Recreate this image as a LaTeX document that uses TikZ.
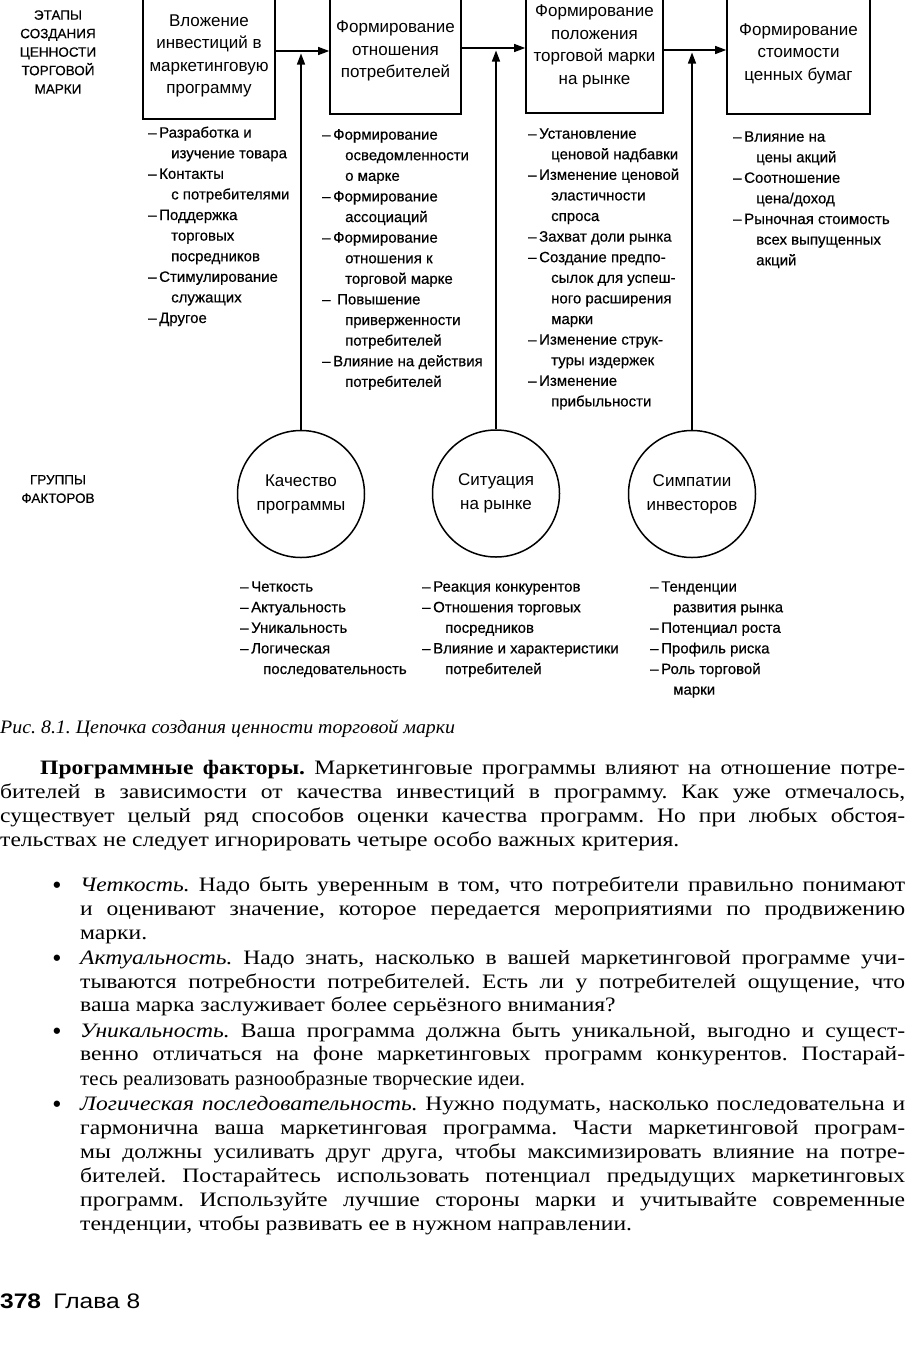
\documentclass[tikz,border=0pt]{standalone}
\usepackage{fontspec}
\setmainfont{Liberation Serif}[FakeStretch=1.15]
\setsansfont{Liberation Sans}
\newfontfamily\lstfont{Liberation Sans}[FakeBold=0.4]
\newfontfamily\capfont{Liberation Serif}
\usepackage{graphicx}
\usetikzlibrary{arrows.meta}
\frenchspacing
\newlength\fitw
\newcommand\fitto[2]{\settowidth\fitw{#2}\pgfmathsetmacro\fitr{#1/\fitw}\scalebox{\fitr}[1]{#2}}
\newcommand\jl[2]{\settowidth\fitw{#2}\ifdim\fitw>#1\relax\pgfmathsetmacro\fitr{#1/\fitw}\scalebox{\fitr}[1]{#2}\else\makebox[#1][s]{#2}\fi}
\newcommand\li[1]{\makebox[11pt][l]{–}#1}
\newcommand\lc[1]{\hspace*{23pt}#1}
\begin{document}
\begin{tikzpicture}[x=1pt,y=-1pt,
  box/.style={draw, line width=1.6pt, align=center, inner sep=0pt,
    font=\sffamily\fontsize{17}{22.5}\selectfont},
  circ/.style={draw, circle, line width=1.5pt, minimum size=127pt, inner sep=0pt,
    align=center, font=\sffamily\fontsize{17}{24}\selectfont},
  lst/.style={anchor=north west, align=left, inner sep=0pt,
    font=\lstfont\fontsize{15}{20.6}\selectfont},
  lbl/.style={align=center, inner sep=0pt, font=\lstfont\fontsize{13.5}{18.5}\selectfont},
  arr/.style={line width=1.3pt, -{Triangle[length=11pt,width=8pt]}},
  body/.style={anchor=base west, inner sep=0pt, font=\frenchspacing\fontsize{20.5}{24}\selectfont},
  bul/.style={anchor=base, inner sep=0pt, font=\sffamily\bfseries\fontsize{22}{24}\selectfont}]
\useasboundingbox (0,0) rectangle (914,1368);
\fill[white] (0,0) rectangle (914,1368);
\clip (0,0) rectangle (914,1368);

% left labels
\node[lbl] (stages) at (58,52) {ЭТАПЫ\\СОЗДАНИЯ\\ЦЕННОСТИ\\ТОРГОВОЙ\\МАРКИ};
\node[lbl] (groups) at (58,489) {ГРУППЫ\\ФАКТОРОВ};

% boxes
\node[box, minimum width=132pt, minimum height=126pt] (b1) at (209,56) {Вложение\\инвестиций в\\маркетинговую\\программу};
\node[box, minimum width=131pt, minimum height=126pt] (b2) at (395.5,51) {Формирование\\отношения\\потребителей};
\node[box, minimum width=137pt, minimum height=133pt] (b3) at (594.5,46.5) {Формирование\\положения\\торговой марки\\на рынке};
\node[box, minimum width=143pt, minimum height=121pt] (b4) at (798.5,53.5) {Формирование\\стоимости\\ценных бумаг};

\coordinate (a1) at (0,51);
\coordinate (a2) at (0,48);
\coordinate (a3) at (0,50);
\draw[arr] (b1.east |- a1) -- (b2.west |- a1);
\draw[arr] (b2.east |- a2) -- (b3.west |- a2);
\draw[arr] (b3.east |- a3) -- (b4.west |- a3);

% circles
\node[circ] (c1) at (301,494) {Качество\\программы};
\node[circ] (c2) at (496,493.5) {Ситуация\\на рынке};
\node[circ] (c3) at (692,494) {Симпатии\\инвесторов};
\draw[arr, shorten >=2.5pt] (c1.north) -- (c1.north |- a1);
\draw[arr, shorten >=2.5pt] (c2.north) -- (c2.north |- a2);
\draw[arr, shorten >=2.5pt] (c3.north) -- (c3.north |- a3);

% upper lists
\node[lst] (l1) at (148,123) {\strut\li{Разработка и}\\\lc{изучение товара}\\\li{Контакты}\\\lc{с потребителями}\\\li{Поддержка}\\\lc{торговых}\\\lc{посредников}\\\li{Стимулирование}\\\lc{служащих}\\\li{Другое}};
\node[lst] (l2) at (322,125) {\strut\li{Формирование}\\\lc{осведомленности}\\\lc{о марке}\\\li{Формирование}\\\lc{ассоциаций}\\\li{Формирование}\\\lc{отношения к}\\\lc{торговой марке}\\\li{\hspace{4pt}Повышение}\\\lc{приверженности}\\\lc{потребителей}\\\li{Влияние на действия}\\\lc{потребителей}};
\node[lst] (l3) at (528,124) {\strut\li{Установление}\\\lc{ценовой надбавки}\\\li{Изменение ценовой}\\\lc{эластичности}\\\lc{спроса}\\\li{Захват доли рынка}\\\li{Создание предпо-}\\\lc{сылок для успеш-}\\\lc{ного расширения}\\\lc{марки}\\\li{Изменение струк-}\\\lc{туры издержек}\\\li{Изменение}\\\lc{прибыльности}};
\node[lst] (l4) at (733,127) {\strut\li{Влияние на}\\\lc{цены акций}\\\li{Соотношение}\\\lc{цена/доход}\\\li{Рыночная стоимость}\\\lc{всех выпущенных}\\\lc{акций}};

% lower lists
\node[lst] (m1) at (240,577) {\strut\li{Четкость}\\\li{Актуальность}\\\li{Уникальность}\\\li{Логическая}\\\lc{последовательность}};
\node[lst] (m2) at (422,577) {\strut\li{Реакция конкурентов}\\\li{Отношения торговых}\\\lc{посредников}\\\li{Влияние и характеристики}\\\lc{потребителей}};
\node[lst] (m3) at (650,577) {\strut\li{Тенденции}\\\lc{развития рынка}\\\li{Потенциал роста}\\\li{Профиль риска}\\\li{Роль торговой}\\\lc{марки}};

% caption
\node[anchor=base west, inner sep=0pt, font=\capfont\itshape\fontsize{19}{20}\selectfont] (cap) at (0,733) {\fitto{455pt}{Рис. 8.1. Цепочка создания ценности торговой марки}};

% body text
\node[body] (p1) at (40,774) {\jl{865pt}{\textbf{Программные факторы.} Маркетинговые программы влияют на отношение потре-}};
\node[body] (p2) at (0,798) {\jl{905pt}{бителей в зависимости от качества инвестиций в программу. Как уже отмечалось,}};
\node[body] (p3) at (0,822) {\jl{905pt}{существует целый ряд способов оценки качества программ. Но при любых обстоя-}};
\node[body] (p4) at (0,846) {тельствах не следует игнорировать четыре особо важных критерия.};

\node[bul] (d1) at (57,892) {•};
\node[body] (q1) at (80,891) {\jl{825pt}{\textit{Четкость.} Надо быть уверенным в том, что потребители правильно понимают}};
\node[body] (q2) at (80,915) {\jl{825pt}{и оценивают значение, которое передается мероприятиями по продвижению}};
\node[body] (q3) at (80,939) {марки.};

\node[bul] (d2) at (57,965) {•};
\node[body] (r1) at (80,964) {\jl{825pt}{\textit{Актуальность.} Надо знать, насколько в вашей маркетинговой программе учи-}};
\node[body] (r2) at (80,988) {\jl{825pt}{тываются потребности потребителей. Есть ли у потребителей ощущение, что}};
\node[body] (r3) at (80,1011) {ваша марка заслуживает более серьёзного внимания?};

\node[bul] (d3) at (57,1038) {•};
\node[body] (s1) at (80,1037) {\jl{825pt}{\textit{Уникальность.} Ваша программа должна быть уникальной, выгодно и сущест-}};
\node[body] (s2) at (80,1060) {\jl{825pt}{венно отличаться на фоне маркетинговых программ конкурентов. Постарай-}};
\node[body] (s3) at (80,1085) {\fitto{445pt}{тесь реализовать разнообразные творческие идеи.}};

\node[bul] (d4) at (57,1111) {•};
\node[body] (t1) at (80,1110) {\jl{825pt}{\textit{Логическая последовательность.} Нужно подумать, насколько последовательна и}};
\node[body] (t2) at (80,1134) {\jl{825pt}{гармонична ваша маркетинговая программа. Части маркетинговой програм-}};
\node[body] (t3) at (80,1158) {\jl{825pt}{мы должны усиливать друг друга, чтобы максимизировать влияние на потре-}};
\node[body] (t4) at (80,1182) {\jl{825pt}{бителей. Постарайтесь использовать потенциал предыдущих маркетинговых}};
\node[body] (t5) at (80,1206) {\jl{825pt}{программ. Используйте лучшие стороны марки и учитывайте современные}};
\node[body] (t6) at (80,1230) {тенденции, чтобы развивать ее в нужном направлении.};

% footer
\node[anchor=base west, inner sep=0pt, font=\sffamily\fontsize{21}{24}\selectfont] (ft) at (0,1308) {\fitto{140pt}{\textbf{378}\hspace{0.5em}Глава 8}};
\end{tikzpicture}
\end{document}
